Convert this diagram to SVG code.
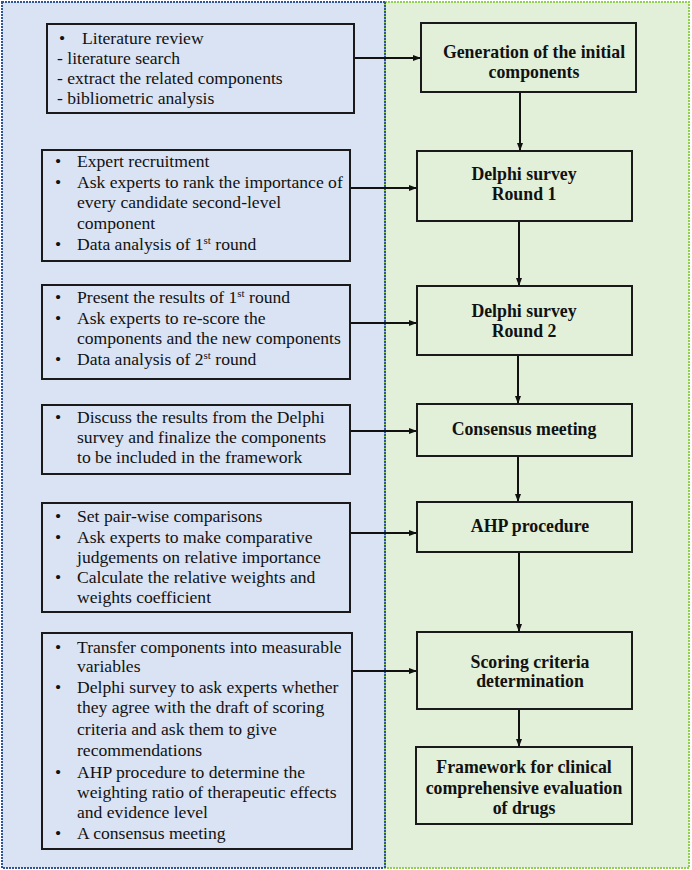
<svg xmlns="http://www.w3.org/2000/svg" width="692" height="870" viewBox="0 0 692 870">
<defs>
<style>
.lb{fill:#dae3f3;stroke:#1a1a1a;stroke-width:2}
.rb{fill:#e2f0d9;stroke:#1a1a1a;stroke-width:2}
.lt{font-family:"Liberation Serif","Times New Roman",serif;font-size:17.6px;fill:#111}
.rt{font-family:"Liberation Serif","Times New Roman",serif;font-size:17.8px;font-weight:bold;fill:#111;text-anchor:middle}
.sup{font-size:11px}
.con{stroke:#111;stroke-width:2;fill:none;marker-end:url(#ah)}
</style>
<marker id="ah" markerUnits="userSpaceOnUse" markerWidth="8" markerHeight="8" viewBox="0 0 8 8" refX="8" refY="4" orient="auto">
<path d="M0,1 L8,4 L0,7 Z" fill="#111"/>
</marker>
</defs>
<rect x="2" y="2" width="383" height="866" fill="#dae3f3" stroke="#2f5597" stroke-width="2" stroke-dasharray="2 1"/>
<rect x="385" y="2" width="304" height="866" fill="#e2f0d9" stroke="#92d050" stroke-width="2" stroke-dasharray="2 1"/>
<line x1="385" y1="2" x2="385" y2="868" stroke="#2f5597" stroke-width="2" stroke-dasharray="2 1"/>

<g id="connectors">
<line class="con" x1="354" y1="58" x2="421" y2="58"/>
<line class="con" x1="350" y1="188" x2="417" y2="188"/>
<line class="con" x1="350" y1="323" x2="417" y2="323"/>
<line class="con" x1="350" y1="431" x2="417" y2="431"/>
<line class="con" x1="350" y1="533" x2="417" y2="533"/>
<line class="con" x1="352" y1="671" x2="417" y2="671"/>
<line class="con" x1="520" y1="92" x2="520" y2="151"/>
<line class="con" x1="519" y1="221" x2="519" y2="286"/>
<line class="con" x1="518" y1="355" x2="518" y2="404"/>
<line class="con" x1="518" y1="456" x2="518" y2="502"/>
<line class="con" x1="519" y1="552" x2="519" y2="632"/>
<line class="con" x1="519" y1="709" x2="519" y2="747"/>
</g>

<g id="lit">
<rect class="lb" x="47" y="24" width="307" height="89"/>
<text class="lt" x="59" y="44">•</text>
<text class="lt" x="82" y="44">Literature review</text>
<text class="lt" x="57" y="64">- literature search</text>
<text class="lt" x="57" y="84">- extract the related components</text>
<text class="lt" x="57" y="104">- bibliometric analysis</text>
</g>

<g id="r1tasks">
<rect class="lb" x="42" y="150" width="308" height="111"/>
<text class="lt" x="55" y="167">•</text>
<text class="lt" x="77" y="167">Expert recruitment</text>
<text class="lt" x="55" y="188">•</text>
<text class="lt" x="77" y="188">Ask experts to rank the importance of</text>
<text class="lt" x="77" y="208">every candidate second-level</text>
<text class="lt" x="77" y="229">component</text>
<text class="lt" x="55" y="250">•</text>
<text class="lt" x="77" y="250">Data analysis of 1<tspan class="sup" dy="-6">st</tspan><tspan dy="6"> round</tspan></text>
</g>

<g id="r2tasks">
<rect class="lb" x="42" y="285" width="308" height="94"/>
<text class="lt" x="55" y="303">•</text>
<text class="lt" x="77" y="303">Present the results of 1<tspan class="sup" dy="-6">st</tspan><tspan dy="6"> round</tspan></text>
<text class="lt" x="55" y="324">•</text>
<text class="lt" x="77" y="324">Ask experts to re-score the</text>
<text class="lt" x="77" y="344">components and the new components</text>
<text class="lt" x="55" y="365">•</text>
<text class="lt" x="77" y="365">Data analysis of 2<tspan class="sup" dy="-6">st</tspan><tspan dy="6"> round</tspan></text>
</g>

<g id="cmtasks">
<rect class="lb" x="42" y="405" width="308" height="69"/>
<text class="lt" x="55" y="423">•</text>
<text class="lt" x="77" y="423">Discuss the results from the Delphi</text>
<text class="lt" x="77" y="443">survey and finalize the components</text>
<text class="lt" x="77" y="463">to be included in the framework</text>
</g>

<g id="ahptasks">
<rect class="lb" x="42" y="503" width="308" height="109"/>
<text class="lt" x="55" y="522">•</text>
<text class="lt" x="77" y="522">Set pair-wise comparisons</text>
<text class="lt" x="55" y="543">•</text>
<text class="lt" x="77" y="543">Ask experts to make comparative</text>
<text class="lt" x="77" y="563">judgements on relative importance</text>
<text class="lt" x="55" y="583">•</text>
<text class="lt" x="77" y="583">Calculate the relative weights and</text>
<text class="lt" x="77" y="603">weights coefficient</text>
</g>

<g id="sctasks">
<rect class="lb" x="42" y="633" width="310" height="216"/>
<text class="lt" x="55" y="653">•</text>
<text class="lt" x="77" y="653">Transfer components into measurable</text>
<text class="lt" x="77" y="672">variables</text>
<text class="lt" x="55" y="693">•</text>
<text class="lt" x="77" y="693">Delphi survey to ask experts whether</text>
<text class="lt" x="77" y="713">they agree with the draft of scoring</text>
<text class="lt" x="77" y="735">criteria and ask them to give</text>
<text class="lt" x="77" y="756">recommendations</text>
<text class="lt" x="55" y="778">•</text>
<text class="lt" x="77" y="778">AHP procedure to determine the</text>
<text class="lt" x="77" y="798">weighting ratio of therapeutic effects</text>
<text class="lt" x="77" y="818">and evidence level</text>
<text class="lt" x="55" y="839">•</text>
<text class="lt" x="77" y="839">A consensus meeting</text>
</g>

<g id="gen">
<rect class="rb" x="421" y="23" width="215" height="69"/>
<text class="rt" x="534" y="58">Generation of the initial</text>
<text class="rt" x="534" y="78">components</text>
</g>

<g id="delphi1">
<rect class="rb" x="417" y="151" width="215" height="70"/>
<text class="rt" x="524" y="180">Delphi survey</text>
<text class="rt" x="524" y="200">Round 1</text>
</g>

<g id="delphi2">
<rect class="rb" x="417" y="286" width="215" height="69"/>
<text class="rt" x="524" y="317">Delphi survey</text>
<text class="rt" x="524" y="337">Round 2</text>
</g>

<g id="consensus">
<rect class="rb" x="417" y="404" width="215" height="52"/>
<text class="rt" x="524" y="435">Consensus meeting</text>
</g>

<g id="ahp">
<rect class="rb" x="417" y="502" width="215" height="50"/>
<text class="rt" x="530" y="532">AHP procedure</text>
</g>

<g id="scoring">
<rect class="rb" x="417" y="632" width="215" height="77"/>
<text class="rt" x="530" y="668">Scoring criteria</text>
<text class="rt" x="530" y="687">determination</text>
</g>

<g id="framework">
<rect class="rb" x="416" y="747" width="216" height="77"/>
<text class="rt" x="524" y="773">Framework for clinical</text>
<text class="rt" x="524" y="794">comprehensive evaluation</text>
<text class="rt" x="524" y="814">of drugs</text>
</g>
</svg>
